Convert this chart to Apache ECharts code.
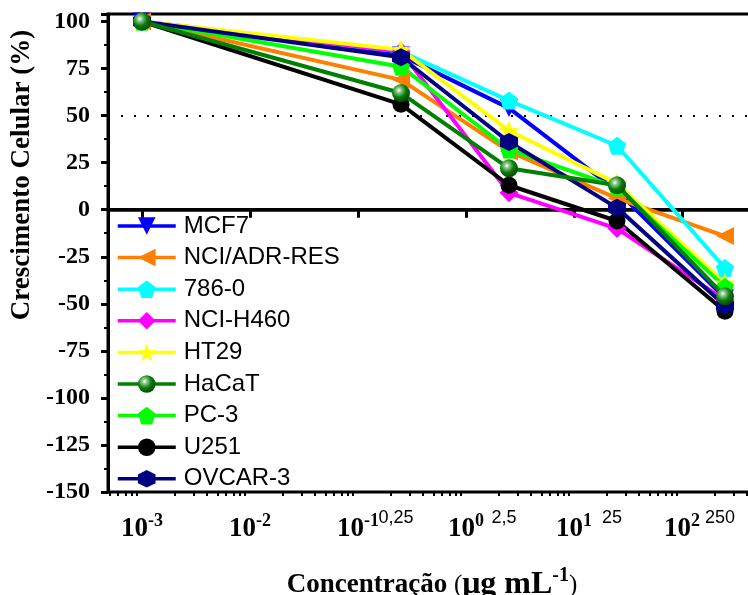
<!DOCTYPE html>
<html>
<head>
<meta charset="utf-8">
<script src="https://cdn.jsdelivr.net/npm/echarts@6/dist/echarts.min.js"></script>
<style>html,body{margin:0;padding:0;background:#fff}#c{width:748px;height:595px}</style>
</head>
<body>
<div id="c"></div>
<script>
// ---- data ----
const concentrations = [0.001, 0.25, 2.5, 25, 250];
const seriesNames = ['MCF7', 'NCI/ADR-RES', '786-0', 'NCI-H460', 'HT29', 'HaCaT', 'PC-3', 'U251', 'OVCAR-3'];
const mcf7    = [100, 82, 54, 10, -47];
const nciAdr  = [100, 69, 31, 6, -14];
const c7860   = [100, 84, 58, 34, -31];
const nciH460 = [100, 84, 9, -10, -48];
const ht29    = [100, 85, 42, 14, -39];
const hacat   = [100, 62, 22, 13, -46];
const pc3     = [100, 76, 32, 12, -41];
const u251    = [100, 56, 13, -6, -54];
const ovcar3  = [100, 81, 36, 1, -51];
const decadeTicks = [0.001, 0.01, 0.1, 1, 10, 100];
const concTickLabels = [0.25, 2.5, 25, 250];
const yTicks = { min: -150, max: 104, interval: 25 };
const refLines = [0, 50];

// ---- styles ----
const serif = '"Liberation Serif","Times New Roman",serif';
const sans = '"Liberation Sans",Arial,sans-serif';
const xMin = Math.pow(10, -3.315), xMax = Math.pow(10, 2.685);
const minorTicks = [];
for (let e = -4; e <= 2; e++) for (let k = 2; k <= 9; k++) minorTicks.push(+(k * Math.pow(10, e)).toPrecision(6));

const SYM = {
  down: 'path://M-10,-8L10,-8L0,10Z',
  left: 'path://M-10,0L8,-10L8,10Z',
  pent: 'path://M0,-10L9.51,-3.09L5.88,8.09L-5.88,8.09L-9.51,-3.09Z',
  star: 'path://M0,-10L2.35,-3.24L9.51,-3.09L3.8,1.24L5.88,8.09L0,4L-5.88,8.09L-3.8,1.24L-9.51,-3.09L-2.35,-3.24Z',
  hex: 'path://M0,-10L8.66,-5L8.66,5L0,10L-8.66,5L-8.66,-5Z'
};
const sphere = { type: 'radial', x: 0.38, y: 0.35, r: 0.7, colorStops: [
  { offset: 0, color: '#ffffff' }, { offset: 0.2, color: '#8cc88c' }, { offset: 0.55, color: '#0a7d0a' }, { offset: 1, color: '#004400' }] };

const defs = [
  [mcf7, '#0000ff', '#0000ff', SYM.down, 18],
  [nciAdr, '#ff8000', '#ff8000', SYM.left, 18],
  [c7860, '#00ffff', '#00ffff', SYM.pent, 18],
  [nciH460, '#ff00ff', '#ff00ff', 'diamond', 19],
  [ht29, '#ffff00', '#ffff00', SYM.star, 21],
  [hacat, '#008000', sphere, 'circle', 18],
  [pc3, '#00ff00', '#00ff00', SYM.pent, 18],
  [u251, '#000000', '#000000', 'circle', 17],
  [ovcar3, '#000080', '#000080', SYM.hex, 18]
];

const series = [{
  type: 'line', name: '_ref', data: [], silent: true,
  markLine: {
    z: 1, silent: true, symbol: 'none', label: { show: false }, animation: false,
    data: [
      { yAxis: refLines[0], lineStyle: { color: '#000', width: 3.5, type: 'solid' } },
      { yAxis: refLines[1], lineStyle: { color: '#000', width: 2, type: [2, 11] } }
    ]
  }
}];
defs.forEach((d, i) => {
  series.push({
    type: 'line', name: seriesNames[i],
    data: concentrations.map((c, j) => [c, d[0][j]]),
    symbol: d[3], symbolSize: d[4], showSymbol: true,
    lineStyle: { color: d[1], width: 4 },
    itemStyle: { color: d[2], borderWidth: 0 },
    z: i === 5 ? 4 : 3
  });
});

const chart = echarts.init(document.getElementById('c'), null, { renderer: 'canvas' });
chart.setOption({
  animation: false,
  backgroundColor: '#fff',
  grid: { left: 108, top: 14, width: 648, height: 478, show: true, borderColor: '#000', borderWidth: 3, containLabel: false, outerBoundsMode: 'none' },
  legend: {
    data: seriesNames, orient: 'vertical', left: 116, top: 214, padding: 0,
    itemWidth: 58, itemHeight: 22, itemGap: 7.6,
    textStyle: { fontFamily: sans, fontSize: 24, color: '#000', lineHeight: 24, padding: [0, 0, 0, 3] },
    lineStyle: { width: 3.5 }
  },
  xAxis: [
    {
      type: 'log', min: xMin, max: xMax, position: 'bottom',
      name: '{a|Concentração }{p|(}{b|μg mL}{s|-1}{p|)}', nameLocation: 'middle', nameGap: 74,
      nameTextStyle: { rich: {
        a: { fontFamily: serif, fontWeight: 'bold', fontSize: 27, color: '#000' },
        p: { fontFamily: serif, fontSize: 25, color: '#000' },
        b: { fontFamily: serif, fontWeight: 'bold', fontSize: 32, color: '#000' },
        s: { fontFamily: serif, fontWeight: 'bold', fontSize: 20, color: '#000', padding: [0, 0, 18, 0] }
      } },
      axisLine: { lineStyle: { color: '#000', width: 3 } },
      splitLine: { show: false },
      axisTick: { customValues: decadeTicks, length: 8, lineStyle: { color: '#000', width: 3 } },
      axisLabel: {
        customValues: decadeTicks, margin: 20,
        formatter: v => '{b|10}{s|' + Math.round(Math.log10(v)) + '}',
        rich: {
          b: { fontFamily: serif, fontWeight: 'bold', fontSize: 27, color: '#000' },
          s: { fontFamily: serif, fontWeight: 'bold', fontSize: 18, color: '#000', padding: [0, 0, 16, 0] }
        }
      }
    },
    {
      type: 'log', min: xMin, max: xMax, position: 'bottom',
      axisLine: { show: false }, splitLine: { show: false },
      axisTick: { customValues: minorTicks, length: 4, lineStyle: { color: '#000', width: 2 } },
      axisLabel: { show: false }
    },
    {
      type: 'log', min: xMin, max: xMax, position: 'bottom',
      axisLine: { show: false }, splitLine: { show: false }, axisTick: { show: false },
      axisLabel: {
        customValues: concTickLabels, margin: 17,
        formatter: v => String(v).replace('.', ','),
        fontFamily: sans, fontSize: 18, color: '#000', padding: [0, 10, 0, 0]
      }
    }
  ],
  yAxis: {
    type: 'value', min: yTicks.min, max: yTicks.max, interval: yTicks.interval,
    name: 'Crescimento Celular (%)', nameLocation: 'middle', nameGap: 58, nameRotate: 90,
    nameTextStyle: { fontFamily: serif, fontWeight: 'bold', fontSize: 27, color: '#000', padding: [0, 0, 0, 156] },
    axisLine: { lineStyle: { color: '#000', width: 3 } },
    axisTick: { length: 7, lineStyle: { color: '#000', width: 3 } },
    minorTick: { show: true, splitNumber: 2, length: 4, lineStyle: { color: '#000', width: 2 } },
    splitLine: { show: false }, minorSplitLine: { show: false },
    axisLabel: { margin: 18, showMaxLabel: false, fontFamily: serif, fontWeight: 'bold', fontSize: 24, color: '#000' }
  },
  series: series
});
</script>
</body>
</html>
